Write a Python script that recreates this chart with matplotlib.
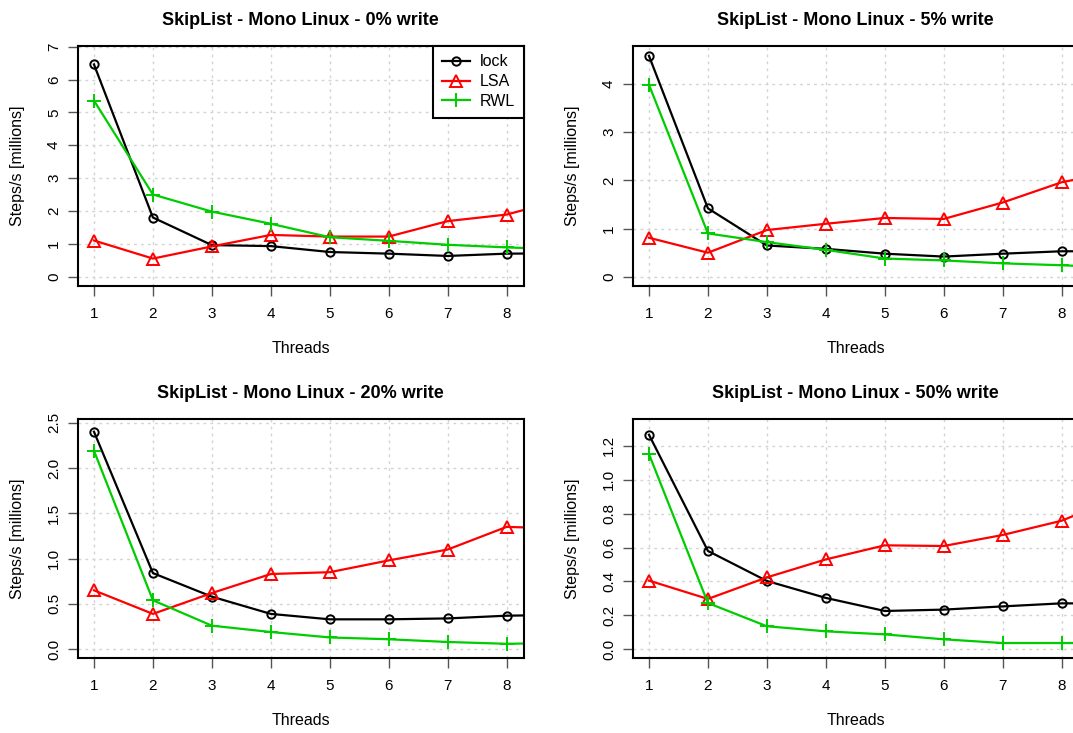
import matplotlib.pyplot as plt
import numpy as np

plt.rcParams['font.family'] = ['Liberation Sans', 'DejaVu Sans']

threads = [1, 2, 3, 4, 5, 6, 7, 8, 9]

# 0% write
lock_0 = [6.46, 1.80, 0.96, 0.93, 0.75, 0.70, 0.63, 0.70, 0.71]
lsa_0 = [1.10, 0.55, 0.92, 1.27, 1.22, 1.22, 1.69, 1.89, 2.37]
rwl_0 = [5.36, 2.50, 1.98, 1.61, 1.20, 1.09, 0.97, 0.89, 0.83]

# 5% write
lock_5 = [4.58, 1.42, 0.65, 0.58, 0.48, 0.42, 0.48, 0.53, 0.53]
lsa_5 = [0.81, 0.50, 0.97, 1.10, 1.22, 1.20, 1.54, 1.96, 2.20]
rwl_5 = [3.98, 0.90, 0.72, 0.56, 0.38, 0.34, 0.28, 0.24, 0.19]

# 20% write
lock_20 = [2.40, 0.84, 0.58, 0.39, 0.33, 0.33, 0.34, 0.37, 0.38]
lsa_20 = [0.65, 0.39, 0.62, 0.83, 0.85, 0.98, 1.10, 1.35, 1.33]
rwl_20 = [2.19, 0.54, 0.26, 0.19, 0.13, 0.11, 0.08, 0.06, 0.07]

# 50% write
lock_50 = [1.265, 0.58, 0.403, 0.303, 0.226, 0.234, 0.253, 0.271, 0.27]
lsa_50 = [0.405, 0.297, 0.424, 0.53, 0.613, 0.609, 0.674, 0.758, 0.90]
rwl_50 = [1.151, 0.273, 0.136, 0.106, 0.088, 0.059, 0.037, 0.037, 0.037]

titles = ["SkipList - Mono Linux - 0% write", "SkipList - Mono Linux - 5% write",
          "SkipList - Mono Linux - 20% write", "SkipList - Mono Linux - 50% write"]
panels = [(lock_0, lsa_0, rwl_0), (lock_5, lsa_5, rwl_5),
          (lock_20, lsa_20, rwl_20), (lock_50, lsa_50, rwl_50)]
yticks = [np.arange(0, 8, 1), np.arange(0, 5, 1),
          np.arange(0, 2.6, 0.5), np.arange(0, 1.3, 0.2)]
ylims = [(-0.30, 7.03), (-0.20, 4.79), (-0.10, 2.537), (-0.053, 1.356)]
yfmt = ["{:.0f}", "{:.0f}", "{:.1f}", "{:.1f}"]

W, H = 1073, 733
fig = plt.figure(figsize=(W / 100, H / 100), dpi=100)

# box positions in pixels: left, top, right, bottom
boxes = [(77.7, 45.7, 523.7, 286.5), (632.7, 45.7, 1078.7, 286.5),
         (77.7, 419.3, 523.7, 658.3), (632.7, 419.3, 1078.7, 658.3)]

green = '#00CD00'
for i, (series, box) in enumerate(zip(panels, boxes)):
    l, t, r, b = box
    ax = fig.add_axes([l / W, 1 - b / H, (r - l) / W, (b - t) / H])
    lock, lsa, rwl = series

    ax.plot(threads, lock, color='black', lw=1.6, marker='o', ms=6,
            mfc='none', mew=1.4, label='lock')
    ax.plot(threads, lsa, color='red', lw=1.6, marker='^', ms=8,
            mfc='none', mew=1.4, label='LSA')
    ax.plot(threads, rwl, color=green, lw=1.6, marker='+', ms=10,
            mew=1.4, label='RWL')

    ax.set_xlim(0.724, 8.29)
    ax.set_ylim(*ylims[i])
    ax.set_xticks(range(1, 9))
    ax.set_yticks(yticks[i])
    ax.set_yticklabels([yfmt[i].format(v) for v in yticks[i]])
    ax.grid(True, color='#D3D3D3', linestyle=(0, (2, 3)), lw=1)
    ax.set_axisbelow(True)

    for s in ax.spines.values():
        s.set_linewidth(1.5)
        s.set_color('black')

    ax.tick_params(axis='both', direction='out', length=7, width=1,
                   color='#555555', labelsize=11)
    ax.tick_params(axis='x', pad=8)
    ax.tick_params(axis='y', pad=5, labelrotation=90)
    for lbl in ax.get_yticklabels():
        lbl.set_va('center')

    ax.set_title(titles[i], fontsize=13, fontweight='bold', pad=15)
    ax.set_xlabel("Threads", fontsize=11.5)
    ax.set_ylabel("Steps/s [millions]", fontsize=11.5)
    ax.xaxis.set_label_coords(0.5, -0.228)
    ax.yaxis.set_label_coords(-0.118, 0.5)

    # legend only in the first panel
    if i == 0:
        leg = ax.legend(loc='upper right', borderaxespad=0, fancybox=False,
                        edgecolor='black', framealpha=1, fontsize=11.5,
                        handlelength=1.75, handletextpad=0.6,
                        labelspacing=0.3, borderpad=0.55, numpoints=1)
        leg.get_frame().set_linewidth(1.5)

fig.savefig("out.png", dpi=100)
